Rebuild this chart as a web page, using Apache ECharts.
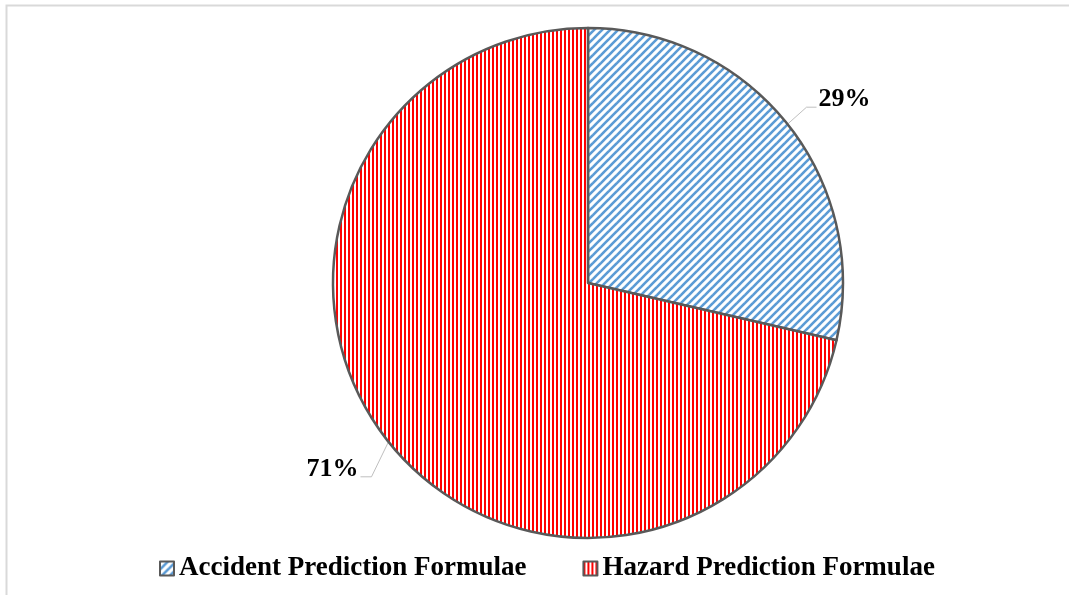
<!DOCTYPE html>
<html>
<head>
<meta charset="utf-8">
<script src="https://cdn.jsdelivr.net/npm/echarts@6/dist/echarts.min.js"></script>
<style>
html,body{margin:0;padding:0;background:#fff;}
#chart{width:1069px;height:595px;}
</style>
</head>
<body>
<div id="chart"></div>
<script>
// Data
var categories = ['Accident Prediction Formulae', 'Hazard Prediction Formulae'];
var values = [28.6, 71.4];

function diagPattern(color) {
  var s = 8;
  var c = document.createElement('canvas');
  c.width = s; c.height = s;
  var ctx = c.getContext('2d');
  ctx.fillStyle = '#ffffff';
  ctx.fillRect(0, 0, s, s);
  ctx.strokeStyle = color;
  ctx.lineWidth = 2.6;
  for (var k = -1; k <= 1; k++) {
    ctx.beginPath();
    ctx.moveTo(k * s - 1, s + 1);
    ctx.lineTo(k * s + s + 1, -1);
    ctx.stroke();
  }
  return c;
}
function vertPattern(color) {
  var c = document.createElement('canvas');
  c.width = 4; c.height = 4;
  var ctx = c.getContext('2d');
  ctx.fillStyle = '#ffffff';
  ctx.fillRect(0, 0, 4, 4);
  ctx.fillStyle = color;
  ctx.fillRect(0, 0, 2, 4);
  return c;
}

var fills = [
  { image: diagPattern('#5B9BD5'), repeat: 'repeat' },
  { image: vertPattern('#FF0000'), repeat: 'repeat' }
];
// leader line shape: [dx to corner, dy to corner, horizontal length]
var leader = [[19, -17, 10], [-17, 35, -11]];

var chart = echarts.init(document.getElementById('chart'), null, { renderer: 'canvas' });
var serif = '"Liberation Serif", "Times New Roman", serif';

chart.setOption({
  animation: false,
  backgroundColor: '#ffffff',
  graphic: [{
    type: 'rect',
    shape: { x: 6.5, y: 5.5, width: 1200, height: 800 },
    style: { fill: 'none', stroke: '#d9d9d9', lineWidth: 2 },
    silent: true
  }],
  legend: {
    left: 154,
    top: 550,
    icon: 'rect',
    itemWidth: 14,
    itemHeight: 14,
    itemGap: 56,
    textStyle: { fontFamily: serif, fontWeight: 'bold', fontSize: 27, color: '#000' },
    data: categories
  },
  series: [{
    type: 'pie',
    center: [588, 283],
    radius: 255,
    startAngle: 90,
    clockwise: true,
    silent: true,
    itemStyle: { borderColor: '#595959', borderWidth: 2.5 },
    label: {
      show: true,
      position: 'outside',
      fontFamily: serif,
      fontWeight: 'bold',
      fontSize: 26,
      color: '#000',
      formatter: function (p) { return Math.round(p.percent) + '%'; }
    },
    labelLine: { show: true, length: 24, length2: 10, lineStyle: { color: '#bfbfbf', width: 1 } },
    labelLayout: function (p) {
      if (!p.labelLinePoints) return {};
      var L = leader[p.dataIndex];
      var a = p.labelLinePoints[0];
      var corner = [a[0] + L[0], a[1] + L[1]];
      var end = [corner[0] + L[2], corner[1]];
      var right = L[2] < 0;
      return {
        x: right ? end[0] - 2 : end[0] + 2,
        y: corner[1] - 8 - p.labelRect.height / 2,
        align: right ? 'right' : 'left',
        verticalAlign: 'top',
        labelLinePoints: [a, corner, end]
      };
    },
    data: categories.map(function (name, i) {
      return {
        name: name,
        value: values[i],
        itemStyle: { color: fills[i] }
      };
    })
  }]
});
</script>
</body>
</html>
